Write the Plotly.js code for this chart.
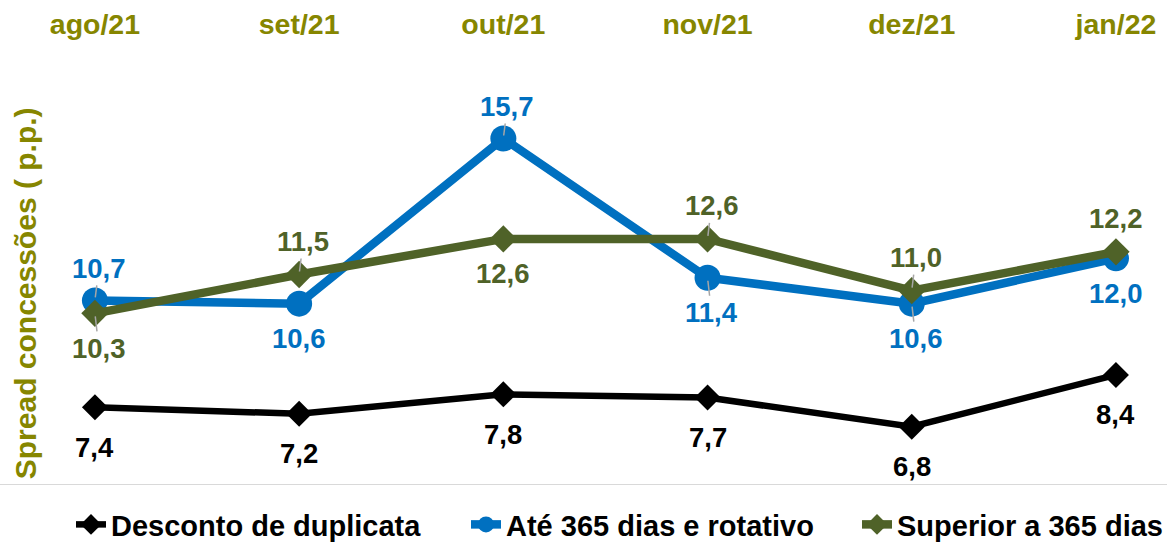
<!DOCTYPE html>
<html>
<head>
<meta charset="utf-8">
<script src="https://cdn.plot.ly/plotly-3.0.1.min.js"></script>
<style>html,body{margin:0;padding:0;background:#fff;}#chart{width:1167px;height:543px;}</style>
</head>
<body>
<div id="chart"></div>
<script>
var months = ['ago/21', 'set/21', 'out/21', 'nov/21', 'dez/21', 'jan/22'];
var desconto = [7.4, 7.2, 7.8, 7.7, 6.8, 8.4];
var ate365 = [10.7, 10.6, 15.7, 11.4, 10.6, 12.0];
var superior = [10.3, 11.5, 12.6, 12.6, 11.0, 12.2];
var seriesNames = ['Desconto de duplicata', 'Até 365 dias e rotativo', 'Superior a 365 dias'];
// label placement: +1 above, -1 below
var descontoPos = [-1, -1, -1, -1, -1, -1];
var atePos = [1, -1, 1, -1, -1, -1];
var superiorPos = [-1, 1, -1, 1, 1, 1];
// small gray leader line drawn for labels moved by hand
var descontoLeader = [false, false, false, false, false, false];
var ateLeader = [true, false, true, true, true, false];
var superiorLeader = [true, true, false, true, true, false];

var cBlack = '#000000', cBlue = '#0070C0', cGreen = '#4F6228', cOlive = '#868600';
var fontFam = 'Liberation Sans, Arial, sans-serif';

function fmt(v) { return v.toFixed(1).replace('.', ','); }

var traces = [
  {x: months, y: desconto, name: seriesNames[0], type: 'scatter', mode: 'lines+markers', legend: 'legend',
   line: {color: cBlack, width: 6.5}, marker: {symbol: 'diamond', size: 20, color: cBlack}},
  {x: months, y: ate365, name: seriesNames[1], type: 'scatter', mode: 'lines+markers', legend: 'legend2',
   line: {color: cBlue, width: 8.5}, marker: {symbol: 'circle', size: 26, color: cBlue}},
  {x: months, y: superior, name: seriesNames[2], type: 'scatter', mode: 'lines+markers', legend: 'legend3',
   line: {color: cGreen, width: 8.5}, marker: {symbol: 'diamond', size: 21, color: cGreen}}
];

var annotations = [];
function addLabels(vals, pos, leader, color, upShift, downShift) {
  for (var i = 0; i < vals.length; i++) {
    var shift = pos[i] > 0 ? upShift : -downShift;
    var a = {x: months[i], y: vals[i], xref: 'x', yref: 'y', text: fmt(vals[i]),
      font: {family: fontFam, size: 27.5, color: color, weight: 'bold'}};
    if (leader[i]) {
      a.showarrow = true; a.arrowhead = 0; a.arrowwidth = 1.5; a.arrowcolor = '#a6a6a6';
      a.standoff = 3; a.ax = 4; a.ay = -shift;
    } else {
      a.showarrow = false; a.yshift = shift;
    }
    annotations.push(a);
  }
}
addLabels(desconto, descontoPos, descontoLeader, cBlack, 38, 40);
addLabels(ate365, atePos, ateLeader, cBlue, 32, 35);
addLabels(superior, superiorPos, superiorLeader, cGreen, 33, 35);

annotations.push({xref: 'paper', yref: 'paper', x: -0.032, y: 0.456, xanchor: 'center', yanchor: 'middle',
  textangle: -90, text: 'Spread concessões ( p.p.)', showarrow: false,
  font: {family: fontFam, size: 30, color: cOlive, weight: 'bold'}});

function legendAt(xpx) {
  return {orientation: 'h', xref: 'container', yref: 'container', x: xpx / 1167, xanchor: 'left',
    y: 0.034, yanchor: 'middle', bgcolor: 'rgba(0,0,0,0)',
    font: {family: fontFam, size: 29, color: '#000000', weight: 'bold'}};
}

var layout = {
  width: 1167, height: 543,
  margin: {l: 60, r: 20, t: 64, b: 58, autoexpand: false},
  paper_bgcolor: '#ffffff', plot_bgcolor: '#ffffff',
  font: {family: fontFam},
  xaxis: {type: 'category', side: 'top', range: [-0.171, 5.152], showgrid: false, zeroline: false,
    showline: false, ticks: '', ticklabelstandoff: 23,
    tickfont: {family: fontFam, size: 28.5, color: cOlive, weight: 'bold'}},
  yaxis: {range: [5, 18], showgrid: false, zeroline: false, showticklabels: false, showline: false, ticks: ''},
  showlegend: true,
  legend: legendAt(71),
  legend2: legendAt(466),
  legend3: legendAt(857),
  shapes: [{type: 'line', xref: 'paper', yref: 'y', x0: -0.0552, x1: 1.0184, y0: 5, y1: 5,
    line: {color: '#d9d9d9', width: 2}}],
  annotations: annotations
};

Plotly.newPlot('chart', traces, layout, {displayModeBar: false, staticPlot: true});
</script>
</body>
</html>
